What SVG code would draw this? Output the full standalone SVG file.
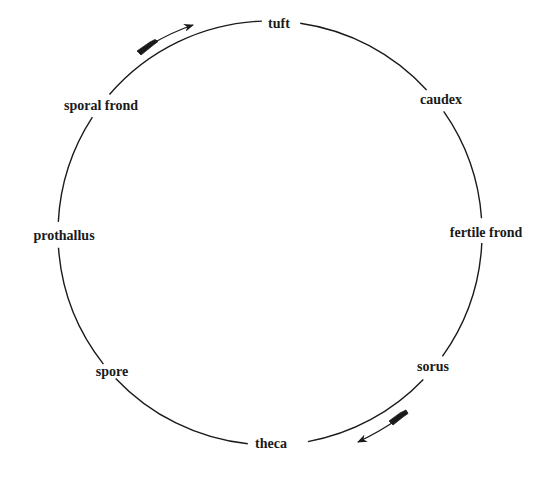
<svg xmlns="http://www.w3.org/2000/svg" width="556" height="480" viewBox="0 0 556 480">
<style>
.lbl{font-family:"Liberation Serif","Times New Roman",serif;font-weight:bold;font-size:14px;fill:#1a1a1a;text-anchor:middle}
.arc{fill:none;stroke:#1a1a1a;stroke-width:1.4}
.arw{fill:none;stroke:#1a1a1a;stroke-width:1.3}
.tail{fill:#1a1a1a;stroke:#1a1a1a;stroke-width:0.8;stroke-linejoin:round}
</style>
<defs>
<marker id="head" viewBox="0 0 10 8" refX="9" refY="4" markerWidth="10" markerHeight="8" markerUnits="userSpaceOnUse" orient="auto">
<path d="M0,0 L10,4 L0,8 L3,4 Z" fill="#1a1a1a"/>
</marker>
</defs>
<rect width="556" height="480" fill="#ffffff"/>
<g id="connectors">
<path class="arc" d="M300.2,23.2 A212,212 0 0 1 426.6,90.0"/>
<path class="arc" d="M443.7,111.4 A212,212 0 0 1 481.5,218.2"/>
<path class="arc" d="M481.8,243.0 A212,212 0 0 1 442.4,356.4"/>
<path class="arc" d="M423.3,379.5 A212,212 0 0 1 307.9,441.6"/>
<path class="arc" d="M247.8,443.8 A212,212 0 0 1 115.7,378.4"/>
<path class="arc" d="M103.4,364.1 A212,212 0 0 1 58.5,247.8"/>
<path class="arc" d="M58.3,221.9 A212,212 0 0 1 92.4,117.2"/>
<path class="arc" d="M109.5,94.5 A212,212 0 0 1 261.9,21.1"/>
<g id="arrow-top">
<path class="arw" d="M150,45 Q172,32 193,25" marker-end="url(#head)"/>
<path class="tail" d="M137,51 L150,42 L155,39.5 L158,41.5 L154,44.5 L141,55 Z"/>
</g>
<g id="arrow-bottom">
<path class="arw" d="M398,419 Q379,432 358,442" marker-end="url(#head)"/>
<path class="tail" d="M389,421 L400,413 L406,410 L408,413.5 L403,417 L393,425 Z"/>
</g>
</g>
<g id="node-tuft"><text class="lbl" x="279" y="28">tuft</text></g>
<g id="node-caudex"><text class="lbl" x="441" y="104">caudex</text></g>
<g id="node-fertile-frond"><text class="lbl" x="486" y="237">fertile frond</text></g>
<g id="node-sorus"><text class="lbl" x="433" y="371">sorus</text></g>
<g id="node-theca"><text class="lbl" x="271" y="448">theca</text></g>
<g id="node-spore"><text class="lbl" x="112" y="376">spore</text></g>
<g id="node-prothallus"><text class="lbl" x="64" y="240">prothallus</text></g>
<g id="node-sporal-frond"><text class="lbl" x="101" y="110">sporal frond</text></g>
</svg>
